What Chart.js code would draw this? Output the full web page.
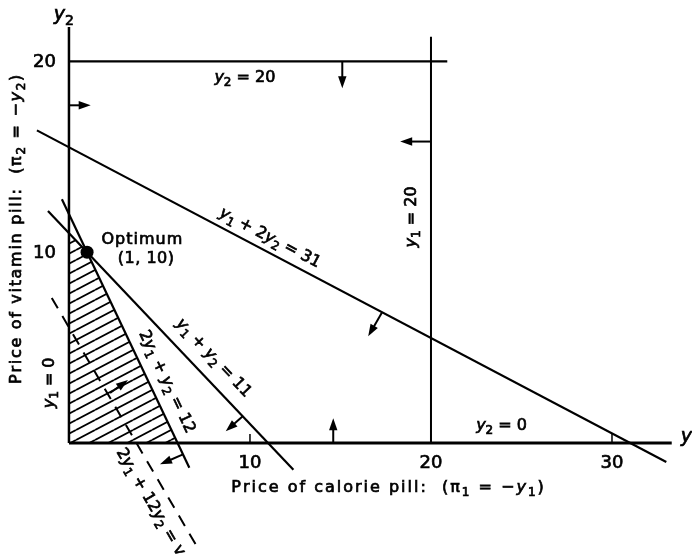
<!DOCTYPE html>
<html>
<head>
<meta charset="utf-8">
<script src="https://cdn.jsdelivr.net/npm/chart.js@4"></script>
<style>
  html, body { margin: 0; padding: 0; background: #fff; }
  #wrap { width: 692px; height: 554px; }
</style>
</head>
<body>
<div id="wrap"><canvas id="dualChart" width="692" height="554"></canvas></div>
<script>
// visible window in (y1, y2) units
const xRange = [-3.81, 34.42];
const yRange = [-5.82, 23.22];
const xTicks = [10, 20, 30];
const yTicks = [10, 20];

// constraint lines as [y1, y2] end points
const axisY1 = [[0, 0], [33.3, 0]];                 // y2 = 0
const axisY2 = [[0, 0], [0, 21.8]];                 // y1 = 0
const lineY2Max = [[0, 20], [20.9, 20]];            // y2 = 20
const lineY1Max = [[20, 0], [20, 21.3]];            // y1 = 20
const lineCalorie = [[-1.77, 16.385], [33, -1]];    // y1 + 2y2 = 31
const lineVitamin = [[-1.16, 12.16], [12.4, -1.4]]; // y1 + y2 = 11
const lineMixed = [[-0.39, 12.78], [6.65, -1.3]];   // 2y1 + y2 = 12
const lineObjective = [[-0.95, 7.6], [7.05, -5.4]]; // iso-cost line
const feasibleRegion = [[0, 0], [0, 11], [1, 10], [6, 0]];
const optimum = [[1, 10]];

// direction arrows: [fromY1, fromY2, toY1, toY2]
const arrows = [
    [15.1, 20, 15.1, 18.6],
    [20, 15.8, 18.3, 15.8],
    [0, 17.7, 1.2, 17.7],
    [14.6, 0, 14.6, 1.3],
    [17.3, 6.85, 16.53, 5.59],
    [9.6, 1.4, 8.66, 0.61],
    [6.3, -0.6, 5.03, -1.12],
    [2.27, 2.62, 3.26, 3.3]
];

// line and point labels ("_" marks a subscript)
const labels = [
    { text: 'y_2 = 20', at: [9.72, 19.13] },
    { text: 'y_2 = 0', at: [23.9, 0.89] },
    { text: 'y_1 = 20', at: [18.95, 11.85], rot: -90 },
    { text: 'y_1 = 0', at: [-1.05, 3.15], rot: -90 },
    { text: 'y_1 + 2y_2 = 31', at: [11.1, 10.74], along: lineCalorie },
    { text: 'y_1 + y_2 = 11', at: [7.98, 4.45], along: lineVitamin },
    { text: '2y_1 + y_2 = 12', at: [5.4, 3.2], along: lineMixed },
    { text: '2y_1 + 12y_2 = v', at: [4.5, -3.1], along: lineObjective },
    { text: 'Optimum', at: [4.03, 10.64], plain: true, track: 1 },
    { text: '(1, 10)', at: [4.25, 9.64], plain: true, track: 0.5 }
];

const FONT = '"DejaVu Sans"';

function toPoints(pairs) {
    return pairs.map(p => ({ x: p[0], y: p[1] }));
}

function lineSet(pairs, width, dash) {
    return {
        data: toPoints(pairs),
        showLine: true,
        borderColor: '#000',
        borderWidth: width,
        borderDash: dash || [],
        pointRadius: 0,
        fill: false
    };
}

function hatchPattern(ctx) {
    const tile = document.createElement('canvas');
    tile.width = 19;
    tile.height = 10;
    const t = tile.getContext('2d');
    t.strokeStyle = '#000';
    t.lineWidth = 1.8;
    for (let k = -1; k <= 1; k++) {
        t.beginPath();
        t.moveTo(0, 10 + 10 * k);
        t.lineTo(19, 10 * k);
        t.stroke();
    }
    return ctx.createPattern(tile, 'repeat');
}

function mathRuns(text, plain) {
    const runs = [];
    for (let i = 0; i < text.length; i++) {
        const ch = text[i];
        if (ch === '_' && !plain) {
            runs.push({ ch: text[++i], sub: true });
        } else {
            runs.push({ ch: ch, sub: false, italic: !plain && ch === 'y' });
        }
    }
    return runs;
}

// lettering: each glyph filled and lightly stroked so it reads like pen ink
function drawText(ctx, text, px, py, angle, size, track, align, plain) {
    const runs = mathRuns(text, plain);
    const fontFor = r => (r.italic ? 'italic ' : '') + Math.round(r.sub ? size * 0.72 : size) + 'px ' + FONT;
    let width = 0;
    runs.forEach(r => {
        ctx.font = fontFor(r);
        r.w = ctx.measureText(r.ch).width;
        width += r.w + track;
    });
    width -= track;
    ctx.save();
    ctx.translate(px, py);
    ctx.rotate(angle);
    ctx.fillStyle = '#000';
    ctx.strokeStyle = '#000';
    ctx.lineWidth = 0.7;
    ctx.textBaseline = 'middle';
    ctx.textAlign = 'left';
    let x = align === 'left' ? 0 : -width / 2;
    runs.forEach(r => {
        ctx.font = fontFor(r);
        const ty = r.sub ? size * 0.32 : 0;
        ctx.fillText(r.ch, x, ty);
        ctx.strokeText(r.ch, x, ty);
        x += r.w + track;
    });
    ctx.restore();
}

function drawArrow(ctx, x0, y0, x1, y1) {
    const a = Math.atan2(y1 - y0, x1 - x0);
    const head = 12, half = 4.2;
    const c = Math.cos(a), s = Math.sin(a);
    ctx.beginPath();
    ctx.moveTo(x0, y0);
    ctx.lineTo(x1 - head * 0.5 * c, y1 - head * 0.5 * s);
    ctx.stroke();
    ctx.beginPath();
    ctx.moveTo(x1, y1);
    ctx.lineTo(x1 - head * c + half * s, y1 - head * s - half * c);
    ctx.lineTo(x1 - head * c - half * s, y1 - head * s + half * c);
    ctx.closePath();
    ctx.fill();
}

const annotations = {
    id: 'annotations',
    afterDatasetsDraw(chart) {
        const ctx = chart.ctx;
        const xs = chart.scales.x, ys = chart.scales.y;
        const px = v => xs.getPixelForValue(v);
        const py = v => ys.getPixelForValue(v);
        const y0 = py(0), x0 = px(0);

        ctx.save();
        ctx.strokeStyle = '#000';
        ctx.fillStyle = '#000';

        // ticks and tick labels
        ctx.lineWidth = 1.5;
        xs.ticks.forEach(t => {
            if (t.value !== 20) {
                ctx.beginPath();
                ctx.moveTo(px(t.value), y0);
                ctx.lineTo(px(t.value), y0 - 9);
                ctx.stroke();
            }
            drawText(ctx, String(t.value), px(t.value), y0 + 20, 0, 18, 0, 'center', true);
        });
        ys.ticks.forEach(t => {
            ctx.font = '18px ' + FONT;
            const w = ctx.measureText(String(t.value)).width;
            drawText(ctx, String(t.value), x0 - 13 - w, py(t.value) + 1, 0, 18, 0, 'left', true);
        });

        // arrows showing which side of each constraint is allowed
        ctx.lineWidth = 2;
        arrows.forEach(a => drawArrow(ctx, px(a[0]), py(a[1]), px(a[2]), py(a[3])));

        labels.forEach(l => {
            let angle = 0;
            if (l.rot) angle = l.rot * Math.PI / 180;
            if (l.along) {
                const p = l.along;
                angle = Math.atan2(py(p[1][1]) - py(p[0][1]), px(p[1][0]) - px(p[0][0]));
            }
            drawText(ctx, l.text, px(l.at[0]), py(l.at[1]), angle, 16, l.track || 0, 'center', l.plain);
        });

        // axis names
        drawText(ctx, 'y_2', px(-0.28), py(22.43), 0, 19, 0, 'center');
        drawText(ctx, 'y_1', px(33.8), py(0.31), 0, 19, 0, 'left');
        drawText(ctx, 'Price of calorie pill:  (π_1 = −y_1)', px(17.6), py(-2.36), 0, 16, 2, 'center');
        drawText(ctx, 'Price of vitamin pill:  (π_2 = −y_2)', px(-2.87), py(11.2), -Math.PI / 2, 16, 1.7, 'center');
        ctx.restore();
    }
};

function createChart(canvasId) {
    const ctx = document.getElementById(canvasId).getContext('2d');
    new Chart(ctx, {
        type: 'scatter',
        data: {
            datasets: [
                lineSet(axisY1, 3),
                lineSet(axisY2, 2.5),
                lineSet(lineY2Max, 2.2),
                lineSet(lineY1Max, 2),
                lineSet(lineCalorie, 2.2),
                lineSet(lineVitamin, 2.2),
                lineSet(lineMixed, 2.2),
                lineSet(lineObjective, 2, [12, 9]),
                {
                    data: toPoints(optimum),
                    pointRadius: 6.5,
                    backgroundColor: '#000',
                    borderWidth: 0
                },
                {
                    data: toPoints(feasibleRegion),
                    showLine: true,
                    fill: 'shape',
                    backgroundColor: hatchPattern(ctx),
                    borderWidth: 0,
                    pointRadius: 0
                }
            ]
        },
        options: {
            responsive: false,
            animation: false,
            layout: { padding: 0, autoPadding: false },
            plugins: {
                legend: { display: false },
                tooltip: { enabled: false }
            },
            scales: {
                x: {
                    type: 'linear',
                    display: false,
                    min: xRange[0],
                    max: xRange[1],
                    afterBuildTicks: axis => { axis.ticks = xTicks.map(v => ({ value: v })); }
                },
                y: {
                    type: 'linear',
                    display: false,
                    min: yRange[0],
                    max: yRange[1],
                    afterBuildTicks: axis => { axis.ticks = yTicks.map(v => ({ value: v })); }
                }
            }
        },
        plugins: [annotations]
    });
}

createChart('dualChart');
</script>
</body>
</html>
